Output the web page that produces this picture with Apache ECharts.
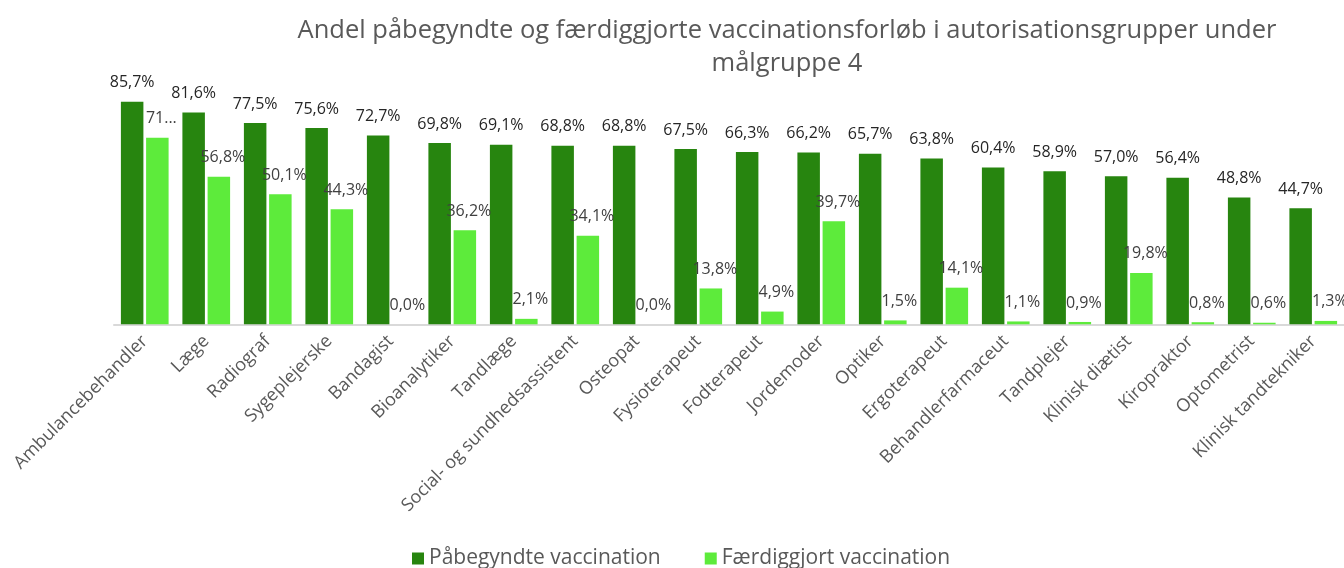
<!DOCTYPE html>
<html>
<head>
<meta charset="utf-8">
<script src="https://cdn.jsdelivr.net/npm/echarts@6/dist/echarts.min.js"></script>
<style>
  html, body { margin: 0; padding: 0; background: #fff; }
  #chart { width: 1344px; height: 568px; }
</style>
</head>
<body>
<div id="chart"></div>
<script>
const categories = [
  'Ambulancebehandler', 'Læge', 'Radiograf', 'Sygeplejerske', 'Bandagist',
  'Bioanalytiker', 'Tandlæge', 'Social- og sundhedsassistent', 'Osteopat', 'Fysioterapeut',
  'Fodterapeut', 'Jordemoder', 'Optiker', 'Ergoterapeut', 'Behandlerfarmaceut',
  'Tandplejer', 'Klinisk diætist', 'Kiropraktor', 'Optometrist', 'Klinisk tandtekniker'
]
const started = [85.7, 81.6, 77.5, 75.6, 72.7, 69.8, 69.1, 68.8, 68.8, 67.5, 66.3, 66.2, 65.7, 63.8, 60.4, 58.9, 57.0, 56.4, 48.8, 44.7]
const finished = [71.8, 56.8, 50.1, 44.3, 0.0, 36.2, 2.1, 34.1, 0.0, 13.8, 4.9, 39.7, 1.5, 14.1, 1.1, 0.9, 19.8, 0.8, 0.6, 1.3]
const seriesNames = ['Påbegyndte vaccination', 'Færdiggjort vaccination']
const titleLines = ['Andel påbegyndte og færdiggjorte vaccinationsforløb i autorisationsgrupper under', 'målgruppe 4']

const chart = echarts.init(document.getElementById('chart'))

// danske decimaler: 85,7%
const pct = p => p.value.toFixed(1).replace('.', ',') + '%'

// første lyse label er afkortet i originalen ("71...")
const finishedData = finished.map((v, i) => i === 0
  ? { value: v, label: { width: 32, overflow: 'truncate', ellipsis: '...' } }
  : v)

const option = {
  textStyle: { fontFamily: 'Open Sans' },
  animation: false,
  graphic: [
    {
      type: 'text',
      x: 787,
      y: 14,
      style: {
        text: titleLines.join('\n'),
        fill: '#595959',
        font: '25.5px "Open Sans"',
        align: 'center',
        lineHeight: 33
      }
    }
  ],
  legend: {
    data: seriesNames,
    top: 543,
    left: 407,
    icon: 'rect',
    itemWidth: 12,
    itemHeight: 12,
    itemGap: 44,
    textStyle: { color: '#595959', fontSize: 21 }
  },
  grid: {
    left: 114,
    width: 1236,
    top: 64.6,
    bottom: 243.7
  },
  xAxis: {
    type: 'category',
    data: categories,
    axisLine: { lineStyle: { color: '#d9d9d9', width: 2 } },
    axisTick: { show: false },
    axisLabel: {
      interval: 0,
      rotate: 45,
      margin: 14,
      color: '#595959',
      fontSize: 18
    }
  },
  yAxis: {
    type: 'value',
    min: 0,
    max: 100,
    show: false
  },
  series: [
    {
      name: seriesNames[0],
      type: 'bar',
      data: started,
      barWidth: 22.5,
      barGap: '12%',
      itemStyle: { color: '#27850f' },
      label: {
        show: true,
        position: 'top',
        distance: 11,
        formatter: pct,
        color: '#262626',
        fontSize: 16
      }
    },
    {
      name: seriesNames[1],
      type: 'bar',
      data: finishedData,
      barWidth: 22.5,
      itemStyle: { color: '#5deb3b' },
      label: {
        show: true,
        position: 'top',
        distance: 11,
        offset: [4, 0],
        formatter: pct,
        color: '#404040',
        fontSize: 16
      }
    }
  ]
}

chart.setOption(option)
</script>
</body>
</html>
